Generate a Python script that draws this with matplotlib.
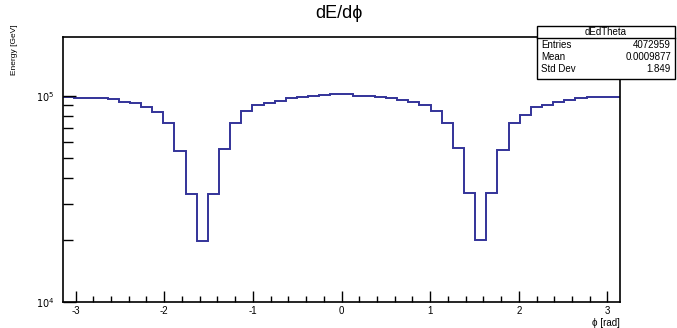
import numpy as np
import matplotlib
matplotlib.use("Agg")
import matplotlib.pyplot as plt
from matplotlib.patches import Rectangle
from matplotlib.ticker import FixedLocator, FixedFormatter, MultipleLocator

plt.rcParams['font.family'] = ['Liberation Sans', 'DejaVu Sans']
plt.rcParams['axes.unicode_minus'] = False

# energy deposited per phi bin (50 bins over [-pi, pi])
energy = [
    9.92e4, 9.81e4, 9.81e4, 9.81e4, 9.67e4, 9.38e4, 9.22e4, 8.87e4, 8.33e4, 7.37e4,
    5.41e4, 3.34e4, 1.98e4, 3.34e4, 5.50e4, 7.36e4, 8.45e4, 8.98e4, 9.22e4, 9.45e4,
    9.73e4, 9.92e4, 1.00e5, 1.01e5, 1.02e5, 1.02e5, 1.00e5, 9.95e4, 9.90e4, 9.73e4,
    9.60e4, 9.38e4, 8.98e4, 8.45e4, 7.37e4, 5.57e4, 3.37e4, 2.00e4, 3.39e4, 5.46e4,
    7.37e4, 8.10e4, 8.83e4, 9.05e4, 9.38e4, 9.55e4, 9.73e4, 9.92e4, 9.92e4, 9.92e4,
]
n_bins = len(energy)
phi_edges = np.linspace(-np.pi, np.pi, n_bins + 1)

hist_name = "dEdTheta"
stats_labels = ["Entries", "Mean", "Std Dev"]
stats_values = ["4072959", "0.0009877", "1.849"]

fig = plt.figure(figsize=(6.77, 3.28), dpi=100)
ax = fig.add_axes([63 / 677, 1 - 302 / 328, (620 - 63) / 677, (302 - 37) / 328])

ax.stairs(energy, phi_edges, color="#333399", linewidth=1.4, baseline=None)

ax.set_xlim(-np.pi, np.pi)
ax.set_yscale("log")
ax.set_ylim(1e4, 1.93e5)

# ROOT-like axes: ticks inside, only left and bottom
for side in ["top", "right", "left", "bottom"]:
    ax.spines[side].set_linewidth(1.2)
ax.xaxis.set_major_locator(MultipleLocator(1))
ax.xaxis.set_minor_locator(MultipleLocator(0.2))
ax.yaxis.set_major_locator(FixedLocator([1e4, 1e5]))
ax.yaxis.set_major_formatter(FixedFormatter([r"$10^{4}$", r"$10^{5}$"]))
ax.yaxis.set_minor_locator(FixedLocator([k * 1e4 for k in range(2, 10)]))
ax.yaxis.set_minor_formatter(FixedFormatter([""] * 8))
ax.tick_params(axis="both", which="both", direction="in", top=False, right=False,
               labelsize=7, color="black", width=1.0)
ax.tick_params(axis="x", which="major", length=8, pad=3)
ax.tick_params(axis="x", which="minor", length=4)
ax.tick_params(axis="y", which="major", length=9, pad=6)
ax.tick_params(axis="y", which="minor", length=7)

ax.set_xlabel("ϕ [rad]", fontsize=7, loc="right", labelpad=1)
fig.text(15 / 677, 1 - 50 / 328, "Energy [GeV]", rotation=90, ha="center", va="center",
         fontsize=6)

fig.text(0.5, 1 - 13 / 328, "dE/dϕ", ha="center", va="center", fontsize=13)

# statistics box
x0, x1 = 537 / 677, 675 / 677
y_top, y_hdr, y_bot = 1 - 26 / 328, 1 - 37.5 / 328, 1 - 79 / 328
fig.patches.append(Rectangle((x0, y_bot), x1 - x0, y_top - y_bot, transform=fig.transFigure,
                             facecolor="white", edgecolor="black", linewidth=1.0, zorder=5))
fig.add_artist(plt.Line2D([x0, x1], [y_hdr, y_hdr], transform=fig.transFigure,
                          color="black", linewidth=1.0, zorder=6))
fig.text((x0 + x1) / 2, (y_top + y_hdr) / 2, hist_name, ha="center", va="center",
         fontsize=7, zorder=7)
row_y = [45, 57, 69]
for lab, val, yy in zip(stats_labels, stats_values, row_y):
    fig.text(541 / 677, 1 - yy / 328, lab, ha="left", va="center", fontsize=7, zorder=7)
    fig.text(671 / 677, 1 - yy / 328, val, ha="right", va="center", fontsize=7, zorder=7)

fig.savefig("out.png", dpi=100)
